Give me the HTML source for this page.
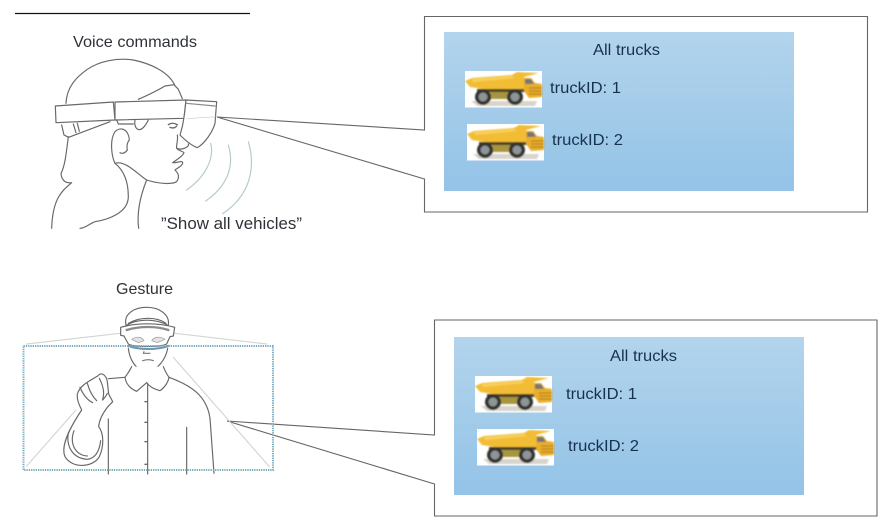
<!DOCTYPE html>
<html>
<head>
<meta charset="utf-8">
<style>
html,body{margin:0;padding:0;background:#fff;width:886px;height:523px;overflow:hidden}
svg{display:block}
text{font-family:"Liberation Sans",sans-serif;fill:#2f3338;filter:url(#ts)}
.t{fill:#16324f;font-size:16px}
</style>
</head>
<body>
<svg width="886" height="523" viewBox="0 0 886 523" xmlns="http://www.w3.org/2000/svg">
<defs>
<linearGradient id="b" x1="0" y1="0" x2="0" y2="1">
<stop offset="0" stop-color="#b3d4ec"/><stop offset="1" stop-color="#93c3e7"/>
</linearGradient>
<filter id="s" x="-5%" y="-5%" width="110%" height="110%"><feGaussianBlur stdDeviation="0.5"/></filter>
<filter id="ts" x="-5%" y="-20%" width="110%" height="140%"><feGaussianBlur stdDeviation="0.3"/></filter>
<filter id="tb" x="-2%" y="-2%" width="104%" height="104%"><feGaussianBlur stdDeviation="0.7"/></filter>
<g id="truck">
<rect width="77" height="36.500" fill="#fff"/>
<g filter="url(#tb)">
<path d="M6 30 H72 L70 35 H12Z" fill="#d8d4cc"/>
<path d="M0 10 L7 7 L47 4 L52 1 L74 2 L59 6 L60 18 L24 19 L5 16Z" fill="#f2bd36"/>
<path d="M7 8 L47 5 L50 7 L8 11Z" fill="#f8d05c"/>
<path d="M12 18 H60 V21 H12Z" fill="#4a4228"/>
<path d="M25 21 H44 V28 H25Z" fill="#a8953f"/>
<path d="M59 7 L66 7 L70 12 L77 13 L77 26 L64 27 L59 20Z" fill="#e9ae2c"/>
<path d="M60 8 L66 8 L69 13 L60 13Z" fill="#77776e"/>
<path d="M64 17 H77 M64 20 H77 M64 23 H77" stroke="#a8741b" stroke-width="1"/>
<circle cx="18" cy="26" r="8" fill="#33332f"/><circle cx="18" cy="26" r="4.500" fill="#8f9496"/>
<circle cx="50" cy="26" r="8" fill="#33332f"/><circle cx="50" cy="26" r="4.500" fill="#8f9496"/>
</g>
</g>
</defs>

<rect width="886" height="523" fill="#fff"/>
<line x1="15" y1="13.500" x2="250" y2="13.500" stroke="#111" stroke-width="1.200"/>

<text x="73" y="47" font-size="16" textLength="124" lengthAdjust="spacingAndGlyphs">Voice commands</text>
<text x="161" y="229" font-size="17" textLength="141" lengthAdjust="spacingAndGlyphs">”Show all vehicles”</text>
<text x="116" y="294" font-size="16" textLength="57" lengthAdjust="spacingAndGlyphs">Gesture</text>

<!-- Panel 1 -->
<path d="M217 117 L424.500 130 V16.500 H867.500 V212 H424.500 V179 L217 117" fill="#fff" stroke="#666" stroke-width="1.100"/>
<rect x="444" y="32" width="350" height="159" fill="url(#b)"/>
<text class="t" x="593" y="55" textLength="67" lengthAdjust="spacingAndGlyphs">All trucks</text>
<use href="#truck" x="465" y="71"/>
<use href="#truck" x="467" y="124"/>
<text class="t" x="550" y="93" textLength="71" lengthAdjust="spacingAndGlyphs">truckID: 1</text>
<text class="t" x="552" y="145" textLength="71" lengthAdjust="spacingAndGlyphs">truckID: 2</text>

<!-- Panel 2 -->
<path d="M227 421 L434.500 435 V320 H877 V516 H434.500 V484 L227 421" fill="#fff" stroke="#666" stroke-width="1.100"/>
<rect x="454" y="337" width="350" height="158" fill="url(#b)"/>
<text class="t" x="610" y="361" textLength="67" lengthAdjust="spacingAndGlyphs">All trucks</text>
<use href="#truck" x="475" y="376"/>
<use href="#truck" x="477" y="429"/>
<text class="t" x="566" y="399" textLength="71" lengthAdjust="spacingAndGlyphs">truckID: 1</text>
<text class="t" x="568" y="451" textLength="71" lengthAdjust="spacingAndGlyphs">truckID: 2</text>

<!-- Voice figure -->
<g transform="scale(.33333)" fill="none" stroke="#686868" stroke-width="3.500" stroke-linecap="round" stroke-linejoin="round" filter="url(#s)">
<path d="M198 310 C200 262 228 232 262 208 C295 185 350 172 400 180 C450 190 505 215 524 255"/>
<path d="M415 298 C445 285 475 270 495 258 L522 254 L535 268 L547 296"/>
<path d="M166 318 L340 306 L345 360 L168 368Z" fill="#fff"/>
<path d="M345 306 L558 300 L552 355 L345 360Z" fill="#fff"/>
<path d="M558 300 L650 305 L645 370 C638 395 615 430 592 443 C570 435 545 410 540 405 C546 385 552 365 558 300Z" fill="#fff"/>
<path d="M558 310 L645 318" stroke="#8a8a8a"/>
<path d="M185 375 L192 405 L206 412 L330 365 M220 372 L228 398 M232 370 L238 394"/>
<path d="M350 360 L355 372 L400 372 M405 360 C400 385 420 410 445 360"/>
<path d="M205 410 C200 450 195 500 183 520 C185 545 200 550 215 548 C190 570 158 590 155 685"/>
<path d="M532 405 C535 420 528 435 530 445 C545 452 570 440 565 432 M530 445 C535 452 550 455 552 458 C548 470 528 480 518 488 C535 490 548 478 548 490 C545 500 530 505 525 510 C535 520 540 530 530 545 C515 555 470 550 440 540 C410 520 375 480 345 490 C335 470 328 420 345 395 C360 380 385 385 388 420 C380 430 380 440 382 450 C375 460 365 462 360 458"/>
<path d="M345 490 C370 510 385 540 385 590 C385 640 320 660 285 665 C270 670 255 685 240 685"/>
<path d="M440 540 C420 590 410 640 416 685"/>
<path d="M505 374 C515 367 525 370 532 374 M510 382 C518 385 525 385 530 378" stroke-width="4"/>
<path d="M560 356 L650 350" stroke="#bbb" stroke-width="1.500"/>
<g stroke="#b4cbcb" stroke-width="3.500">
<path d="M632 430 C645 480 610 535 560 570"/>
<path d="M685 435 C705 500 680 560 617 603"/>
<path d="M745 425 C770 510 745 590 668 641"/>
</g>
</g>

<!-- Gesture figure -->
<g transform="translate(0 270) scale(.33333)" fill="none" stroke="#686868" stroke-width="3.500" stroke-linecap="round" stroke-linejoin="round" filter="url(#s)">
<path d="M80 222 L360 190 M525 190 L800 222 M80 588 L228 420 M520 262 L808 590" stroke="#d3d6d6" stroke-width="3.500"/>
<path d="M378 165 C370 130 405 112 440 112 C480 112 510 135 505 165"/>
<path d="M378 167 C410 145 470 145 505 167 M385 160 C420 140 470 140 498 160"/>
<path d="M362 172 C410 158 475 158 524 172 L520 198 L510 200 L500 222 C480 232 400 232 385 222 L372 198 L362 196Z" fill="#fff"/>
<path d="M380 180 C420 168 470 168 505 180" stroke-width="7" stroke="#8a8a8a"/>
<path d="M385 228 C420 240 470 240 505 228" stroke="#6d97aa" stroke-width="6"/>
<path d="M395 208 C410 198 425 200 432 212 L415 218Z M455 212 C462 200 480 198 495 208 L472 218Z" stroke="#999" fill="#e3e3e3" stroke-width="2"/>
<path d="M385 235 C388 265 405 300 440 308 C475 300 498 265 503 235"/>
<path d="M432 245 L430 250 L450 250 M428 272 C440 268 450 268 460 272" stroke="#777"/>
<path d="M395 290 C388 305 382 312 375 322 C378 345 395 358 410 364 L440 338 C448 350 465 358 480 362 C495 352 505 335 507 322 C500 312 495 302 490 290" fill="#fff"/>
<path d="M375 322 L325 326 M507 322 C570 345 620 375 630 445 L642 610"/>
<path d="M443 340 V612 M325 447 V612 M560 472 V612"/>
<path d="M293 318 C303 306 318 312 322 335 L326 372 L338 395 L322 412 C312 425 298 445 296 470 C312 490 312 530 298 560 C280 592 218 598 195 560 C182 530 205 480 245 420 C238 405 230 390 232 372 C240 345 270 332 293 318Z" fill="#fff"/>
<path d="M205 488 C198 530 218 565 262 568 C285 565 298 545 302 512 M222 482 C208 520 225 555 262 558 M262 340 C268 362 278 380 290 392 M240 352 C250 375 262 390 278 398 M298 325 C308 345 315 365 308 388 M322 370 C318 380 312 385 308 390"/>
<path d="M435 395 h6 M435 457 h6 M435 515 h6 M435 583 h6" stroke-width="4"/>
</g>
<rect x="23.500" y="346" width="249.500" height="124" fill="none" stroke="#79aac2" stroke-width="2" stroke-dasharray="1.300 1"/>
</svg>
</body>
</html>
